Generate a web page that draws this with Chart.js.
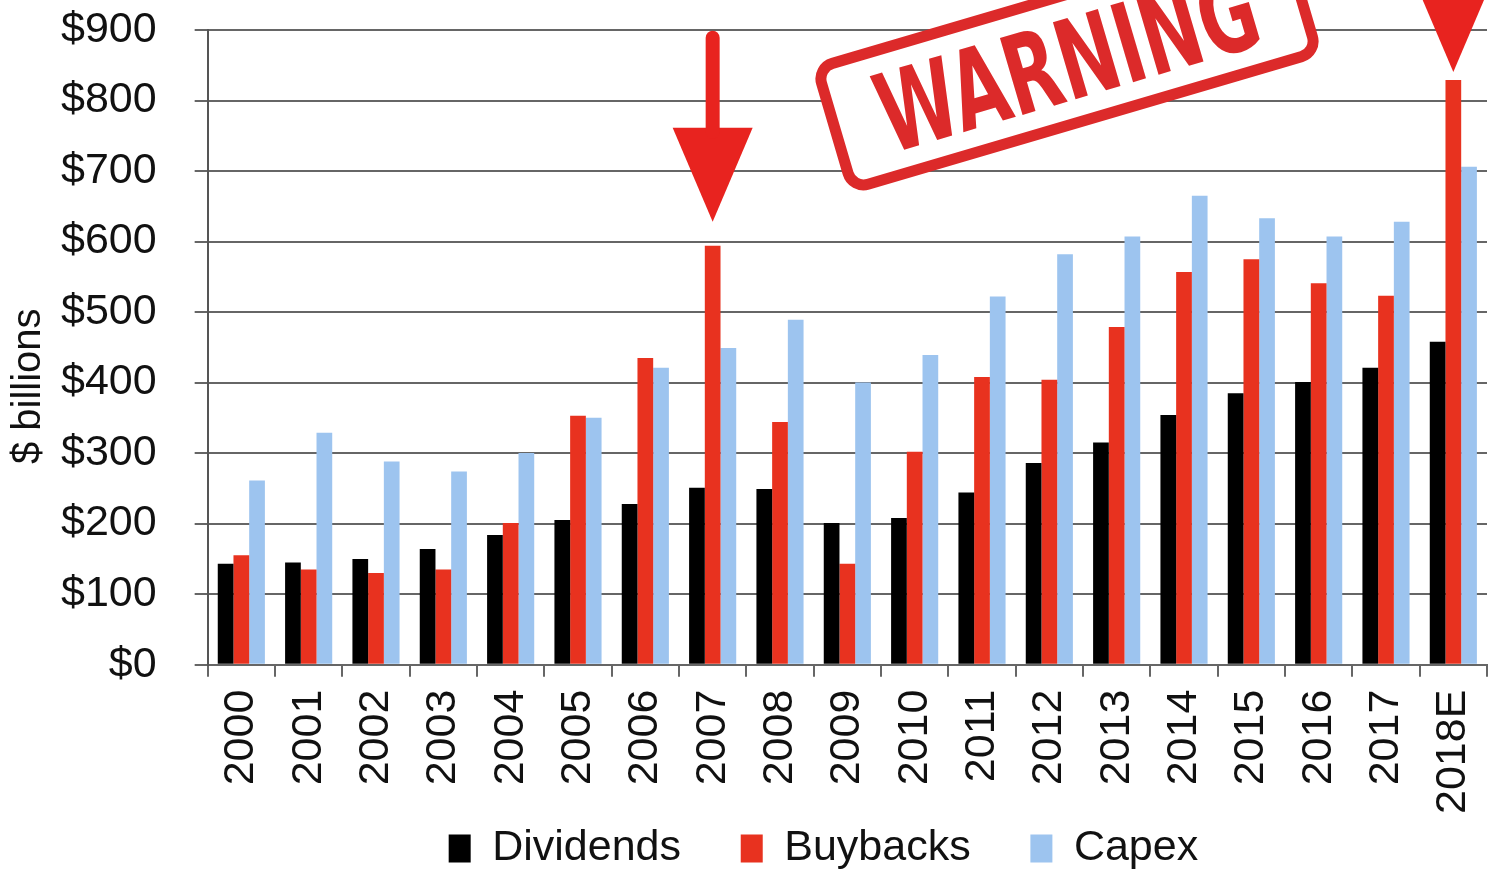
<!DOCTYPE html>
<html>
<head>
<meta charset="utf-8">
<script src="https://cdn.jsdelivr.net/npm/chart.js@4.4.1/dist/chart.umd.min.js"></script>
<style>
    html, body { margin: 0; padding: 0; background: #fff; }
    #wrap { width: 1489px; height: 869px; }
</style>
</head>
<body>
<div id="wrap"><canvas id="chart" width="1489" height="869"></canvas></div>
<script>
const years = ['2000', '2001', '2002', '2003', '2004', '2005', '2006', '2007', '2008', '2009',
               '2010', '2011', '2012', '2013', '2014', '2015', '2016', '2017', '2018E'];
const dividends = [143, 145, 150, 164, 184, 205, 228, 251, 249, 201, 208, 244, 286, 315, 354, 385, 401, 421, 458];
const buybacks  = [155, 135, 130, 135, 201, 353, 435, 594, 344, 143, 302, 408, 404, 479, 557, 575, 541, 523, 829];
const capex     = [261, 329, 288, 274, 300, 350, 421, 449, 489, 400, 439, 522, 582, 607, 665, 633, 607, 628, 706];
const yMax = 900;
const yStep = 100;

// red arrows pointing at the buybacks bar of these years
const arrows = [
    { year: '2007', gap: 24 },
    { year: '2018E', gap: 8 }
];

const FONT = '"Liberation Sans", Arial, sans-serif';
const RED = '#e8231f';
const STAMP_RED = '#dc2a2a';
const NB = '\u00a0';
// trailing spaces to spread the legend items like the original
const legendGaps = [5, 5, 4];

function drawArrow(ctx, x, tipY, shaftLen) {
    const headH = 94, headW = 40, shaftW = 14;
    ctx.save();
    ctx.fillStyle = RED;
    ctx.beginPath();
    ctx.moveTo(x, tipY);
    ctx.lineTo(x - headW, tipY - headH);
    ctx.lineTo(x + headW, tipY - headH);
    ctx.closePath();
    ctx.fill();
    ctx.strokeStyle = RED;
    ctx.lineWidth = shaftW;
    ctx.lineCap = 'round';
    ctx.beginPath();
    ctx.moveTo(x, tipY - headH + 4);
    ctx.lineTo(x, tipY - headH - shaftLen);
    ctx.stroke();
    ctx.restore();
}

const warningPlugin = {
    id: 'warning',
    afterDatasetsDraw(chart) {
        const ctx = chart.ctx;
        const meta = chart.getDatasetMeta(1);
        arrows.forEach(a => {
            const bar = meta.data[years.indexOf(a.year)];
            drawArrow(ctx, bar.x, bar.y - a.gap, 90);
        });

        // rubber stamp
        const cx = 1067, cy = 60, w = 484, h = 126;
        ctx.save();
        ctx.translate(cx, cy);
        ctx.rotate(-16.4 * Math.PI / 180);
        ctx.fillStyle = '#fff';
        ctx.strokeStyle = STAMP_RED;
        ctx.lineWidth = 11;
        ctx.beginPath();
        ctx.roundRect(-w / 2, -h / 2, w, h, 16);
        ctx.fill();
        ctx.stroke();
        ctx.font = 'bold 110px "DejaVu Sans", sans-serif';
        ctx.textAlign = 'center';
        ctx.textBaseline = 'alphabetic';
        const tw = ctx.measureText('WARNING').width;
        ctx.scale(392 / tw, 1);
        ctx.fillStyle = STAMP_RED;
        ctx.fillText('WARNING', 0, 40);
        ctx.restore();
    }
};

new Chart(document.getElementById('chart'), {
    type: 'bar',
    data: {
        labels: years,
        datasets: [{
            label: 'Dividends',
            data: dividends,
            backgroundColor: '#000000'
        }, {
            label: 'Buybacks',
            data: buybacks,
            backgroundColor: '#e8321f'
        }, {
            label: 'Capex',
            data: capex,
            backgroundColor: '#9dc4ef'
        }]
    },
    options: {
        responsive: false,
        animation: false,
        layout: {
            padding: { top: 30, right: 2, left: 0, bottom: -11 }
        },
        datasets: {
            bar: {
                categoryPercentage: 0.7,
                barPercentage: 1.0
            }
        },
        plugins: {
            legend: {
                position: 'bottom',
                fullSize: false,
                labels: {
                    color: '#111',
                    font: { family: FONT, size: 43, lineHeight: 1.2 },
                    boxWidth: 22,
                    boxHeight: 28,
                    padding: 0,
                    generateLabels(chart) {
                        const items = Chart.defaults.plugins.legend.labels.generateLabels(chart);
                        items.forEach((it, i) => { it.text = it.text + NB.repeat(legendGaps[i]); });
                        return items;
                    }
                }
            },
            tooltip: { enabled: false }
        },
        scales: {
            x: {
                afterFit(scale) {
                    scale.paddingLeft = 0;
                    scale.paddingRight = 0;
                },
                grid: {
                    drawOnChartArea: false,
                    drawTicks: true,
                    tickLength: 12,
                    color: '#666',
                    lineWidth: 2
                },
                border: { display: true, color: '#666', width: 2 },
                ticks: {
                    color: '#111',
                    font: { family: FONT, size: 43 },
                    minRotation: 90,
                    maxRotation: 90,
                    padding: 13,
                    autoSkip: false
                }
            },
            y: {
                min: 0,
                max: yMax,
                afterFit(scale) {
                    scale.paddingTop = 0;
                    scale.paddingBottom = 0;
                    scale.width -= scale.options.ticks.padding;
                },
                grid: {
                    color: '#666',
                    lineWidth: 2,
                    drawTicks: true,
                    tickLength: 13
                },
                border: { display: true, color: '#555', width: 2 },
                ticks: {
                    stepSize: yStep,
                    color: '#111',
                    font: { family: FONT, size: 43 },
                    padding: 38,
                    callback: v => '$' + v
                },
                title: {
                    display: true,
                    text: '$ billions' + NB.repeat(7),
                    color: '#111',
                    font: { family: FONT, size: 40 },
                    padding: { top: 5, bottom: 8 }
                }
            }
        }
    },
    plugins: [warningPlugin]
});
</script>
</body>
</html>
